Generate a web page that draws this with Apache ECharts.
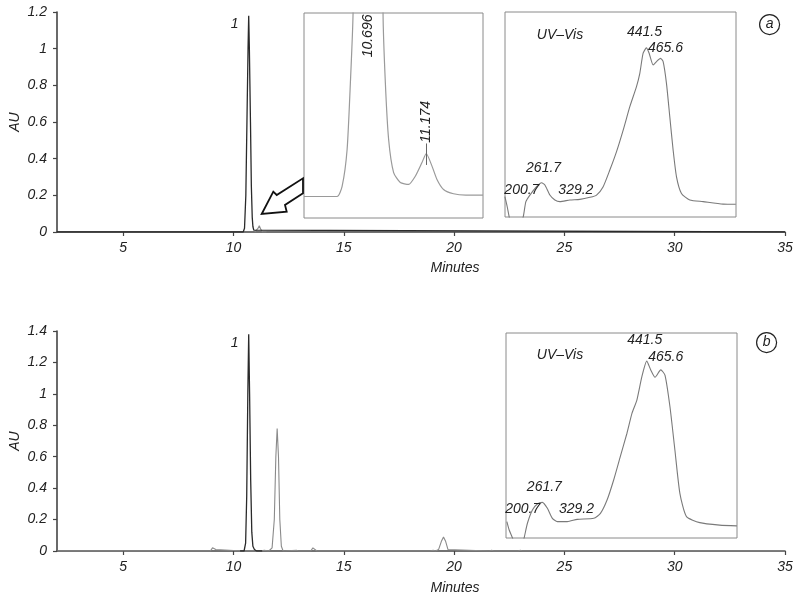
<!DOCTYPE html>
<html>
<head>
<meta charset="utf-8">
<script src="https://cdn.jsdelivr.net/npm/echarts@6/dist/echarts.min.js"></script>
<style>
  html, body { margin: 0; padding: 0; background: #fff; }
  #chart { width: 800px; height: 600px; }
</style>
</head>
<body>
<div id="chart"></div>
<script>
// ---- data ----
const xTicks = [5, 10, 15, 20, 25, 30, 35];

// panel a: chromatogram, [minutes, AU]
const runA_peak = [[2, 0], [10.44, 0], [10.5, 0.02], [10.56, 0.2], [10.61, 0.6], [10.66, 1.0], [10.69, 1.18],
  [10.72, 1.0], [10.77, 0.6], [10.81, 0.25], [10.85, 0.08], [10.88, 0.03], [10.92, 0.01], [10.96, 0], [35, 0]];
const runA_minor = [[10.96, 0], [11.02, 0.004], [11.1, 0.018], [11.17, 0.034], [11.24, 0.014], [11.32, 0], [11.5, 0]];

// panel a inset: zoom of peaks 10.696 / 11.174
const zoomA = [[10.17, 0], [10.442, 0], [10.483, 0.007], [10.524, 0.0328], [10.551, 0.0795], [10.573, 0.1284],
  [10.62, 0.6], [10.696, 1.18], [10.78, 0.6], [10.819, 0.1284], [10.838, 0.0795], [10.865, 0.0398],
  [10.906, 0.0167], [10.961, 0.0098], [11.029, 0.0084], [11.084, 0.0141], [11.139, 0.0237], [11.174, 0.030],
  [11.221, 0.0212], [11.262, 0.0119], [11.316, 0.0049], [11.398, 0.0019], [11.5, 0.001], [11.64, 0.001]];

// UV-Vis spectra, [nm, relative absorbance]
const uvA = [[198.8, 0.099], [202.8, 0.05], [206.2, 0.0], [210, -0.04], [224, -0.04], [230.2, 0.0], [234.8, 0.075],
  [241.7, 0.107], [253.1, 0.148], [261.7, 0.167], [267.4, 0.156], [275.9, 0.107], [284.5, 0.083], [293.1, 0.075],
  [310.2, 0.083], [327.3, 0.086], [344.5, 0.096], [355.9, 0.107], [367.3, 0.148], [378.7, 0.229], [390.2, 0.319],
  [401.6, 0.424], [413, 0.538], [424.4, 0.636], [430.1, 0.701], [435.8, 0.799], [441.5, 0.825], [446.1, 0.799],
  [453, 0.742], [458.7, 0.758], [465.6, 0.774], [470.1, 0.758], [475.8, 0.652], [481.5, 0.489], [487.2, 0.327],
  [493, 0.196], [501.5, 0.115], [515.8, 0.083], [538.6, 0.075], [572.9, 0.063], [594.6, 0.062]];

const uvB = [[200.5, 0.080], [204.5, 0.039], [210.2, 0], [214, -0.04], [226, -0.04], [230.2, 0], [235.9, 0.072],
  [244.5, 0.137], [253, 0.166], [261.7, 0.174], [270.3, 0.145], [278.9, 0.096], [287.4, 0.080], [304.6, 0.080],
  [321.7, 0.091], [350.3, 0.096], [361.7, 0.120], [373.1, 0.185], [384.5, 0.283], [395.9, 0.397], [407.4, 0.511],
  [416, 0.608], [424.5, 0.673], [433.1, 0.787], [441.5, 0.863], [448.4, 0.820], [455.8, 0.784], [465.6, 0.820],
  [472.9, 0.795], [481.5, 0.640], [490, 0.429], [498.6, 0.218], [510, 0.104], [532.9, 0.075], [567.1, 0.063],
  [596.8, 0.059]];

// panel b: chromatogram
const runB_peak = [[10.3, 0], [10.48, 0], [10.55, 0.05], [10.6, 0.35], [10.65, 1.0], [10.69, 1.38], [10.73, 1.0],
  [10.78, 0.45], [10.83, 0.12], [10.88, 0.03], [10.95, 0.01], [11.05, 0], [11.3, 0]];
const runB_other = [[2, 0], [8.95, 0], [9.05, 0.02], [9.12, 0.03], [9.2, 0.01], [9.28, 0], [10.4, 0], [11.2, 0],
  [11.4, 0.005], [11.6, 0], [11.75, 0.02], [11.85, 0.2], [11.92, 0.6], [11.98, 0.78], [12.04, 0.6], [12.1, 0.2],
  [12.17, 0.03], [12.25, 0], [12.85, 0.005], [12.95, 0], [13.5, 0], [13.6, 0.02], [13.68, 0.025], [13.78, 0],
  [18.9, 0], [19.05, 0.004], [19.15, 0], [19.3, 0.01], [19.42, 0.06], [19.52, 0.089], [19.62, 0.06], [19.72, 0.01],
  [19.8, 0], [21.6, 0], [21.7, 0.005], [21.8, 0], [22.9, 0], [23.0, 0.005], [23.1, 0], [35, 0]];

const uvPeaks = ['200.7', '261.7', '329.2', '441.5', '465.6'];

// ---- chart ----
const FONT = "'Liberation Sans', Arial, sans-serif";
const TXT = { fontFamily: FONT, fontStyle: 'italic', fontSize: 14, color: '#222' };

var chartDom = document.getElementById('chart');
var chart = echarts.init(chartDom);

function mainX(gridIndex) {
  return {
    type: 'value', gridIndex: gridIndex, min: 2, max: 35,
    axisLine: { onZero: false, lineStyle: { color: '#444', width: 1.5 } },
    axisTick: { customValues: xTicks, length: 4, lineStyle: { color: '#444', width: 1.2 } },
    axisLabel: Object.assign({ customValues: xTicks, margin: 9 }, TXT),
    splitLine: { show: false }
  };
}
function mainY(gridIndex, max) {
  return {
    type: 'value', gridIndex: gridIndex, min: 0, max: max, interval: 0.2,
    name: 'AU', nameLocation: 'middle', nameRotate: 90, nameGap: 35, nameMoveOverlap: false,
    nameTextStyle: TXT,
    axisLine: { show: true, lineStyle: { color: '#444', width: 1.6 } },
    axisTick: { show: true, length: 4, lineStyle: { color: '#444', width: 1.2 } },
    axisLabel: Object.assign({ margin: 10 }, TXT),
    splitLine: { show: false }
  };
}
function hidden(gridIndex, min, max) {
  return { type: 'value', gridIndex: gridIndex, min: min, max: max, show: false, splitLine: { show: false } };
}
function mainGrid(top) {
  return { left: 57, top: top, width: 728, height: 220, containLabel: false, outerBoundsMode: 'none' };
}
function inset(left, top, width, height) {
  return { left: left, top: top, width: width, height: height, show: true, containLabel: false,
    outerBoundsMode: 'none', borderColor: '#8a8a8a', borderWidth: 1, backgroundColor: '#fff' };
}
function line(data, xi, yi, color, width, smooth) {
  return { type: 'line', data: data, xAxisIndex: xi, yAxisIndex: yi, showSymbol: false, symbol: 'none',
    smooth: smooth || false, clip: true, lineStyle: { color: color, width: width }, animation: false };
}
function tag(text, coord, offset, rotate) {
  return { coord: coord, value: text, symbolSize: 0,
    label: Object.assign({ show: true, formatter: text, offset: offset, rotate: rotate || 0 }, TXT) };
}
function uvMarks(data, yTop) {
  const find = (nm) => data.find(p => p[0] === nm);
  return {
    symbol: 'circle', symbolSize: 0, silent: true,
    data: [
      tag(uvPeaks[0], [227.9, yTop], [0, 0]),
      tag(uvPeaks[1], find(261.7), [2, -15]),
      tag(uvPeaks[2], [320.5, yTop], [0, 0]),
      tag(uvPeaks[3], find(441.5), [-2, yTop > 0.135 ? -21 : -16]),
      tag(uvPeaks[4], find(465.6), [5, yTop > 0.135 ? -13 : -10])
    ]
  };
}

const sA_peak = line(runA_peak, 0, 0, '#2a2a2a', 1.3);
sA_peak.markPoint = { symbolSize: 0, silent: true, data: [tag('1', [10.69, 1.18], [-14, 8])] };
const sB_peak = line(runB_peak, 3, 3, '#2a2a2a', 1.3);
sB_peak.markPoint = { symbolSize: 0, silent: true, data: [tag('1', [10.69, 1.38], [-14, 9])] };

const sZoom = line(zoomA, 1, 1, '#9a9a9a', 1.2, 0.2);
sZoom.markPoint = { symbolSize: 0, silent: true, data: [
  tag('10.696', [10.696, 0.112], [0, 0], 90),
  tag('11.174', [11.174, 0.050], [3, 0], 90)
] };
sZoom.markLine = { symbol: 'none', silent: true, label: { show: false },
  lineStyle: { color: '#666', width: 1, type: 'solid' },
  data: [[{ coord: [11.174, 0.022] }, { coord: [11.174, 0.037] }]] };

const sUvA = line(uvA, 2, 2, '#7a7a7a', 1.1, 0.2);
sUvA.markPoint = uvMarks(uvA, 0.132);
const sUvB = line(uvB, 4, 4, '#7a7a7a', 1.1, 0.2);
sUvB.markPoint = uvMarks(uvB, 0.141);

function circleTag(x, y, letter) {
  return { type: 'group', left: x - 11, top: y - 11, children: [
    { type: 'circle', shape: { cx: 11, cy: 11, r: 10 }, style: { fill: '#fff', stroke: '#222', lineWidth: 1.2 } },
    { type: 'text', x: 11, y: 11, style: { text: letter, align: 'center', verticalAlign: 'middle',
      font: 'italic 14px ' + FONT, fill: '#222' } }
  ] };
}
function plainText(x, y, text) {
  return { type: 'text', x: x, y: y, style: { text: text, align: 'center', verticalAlign: 'middle',
    font: 'italic 14px ' + FONT, fill: '#222' }, z: 10 };
}

var option = {
  backgroundColor: '#fff',
  animation: false,
  grid: [
    mainGrid(12),
    inset(304, 13, 179, 205),
    inset(505, 12, 231, 205),
    mainGrid(331),
    inset(506, 333, 231, 205)
  ],
  xAxis: [mainX(0), hidden(1, 10.17, 11.64), hidden(2, 199, 595), mainX(3), hidden(4, 199, 597)],
  yAxis: [mainY(0, 1.2), hidden(1, -0.015, 0.128), hidden(2, 0, 1), mainY(3, 1.4), hidden(4, 0, 1)],
  series: [
    line(runA_minor, 0, 0, '#8a8a8a', 1.1),
    sA_peak,
    sZoom,
    sUvA,
    line(runB_other, 3, 3, '#8a8a8a', 1.1),
    sB_peak,
    sUvB
  ],
  graphic: [
    { type: 'polygon', z: 10,
      shape: { points: [[261.7, 214], [273.3, 191.7], [276.7, 195], [303, 178.3], [303, 193.3], [285, 205], [286.7, 211.7]] },
      style: { fill: '#fff', stroke: '#111', lineWidth: 1.8 } },
    plainText(560, 35, 'UV–Vis'),
    plainText(560, 355, 'UV–Vis'),
    plainText(455, 268, 'Minutes'),
    plainText(455, 588, 'Minutes'),
    circleTag(770, 25, 'a'),
    circleTag(767, 343, 'b')
  ]
};

option && chart.setOption(option);
</script>
</body>
</html>
